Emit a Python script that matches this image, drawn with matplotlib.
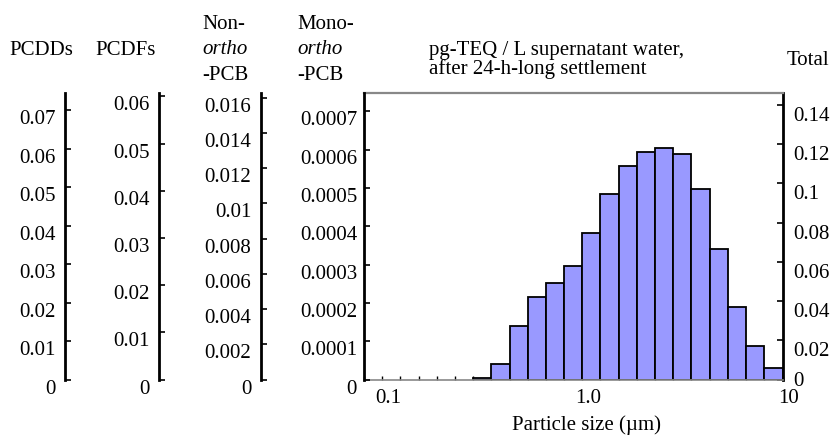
import numpy as np
import matplotlib.pyplot as plt
from matplotlib.ticker import FixedLocator, FuncFormatter, NullLocator
from matplotlib.transforms import ScaledTranslation

plt.rcParams['font.family'] = ['Liberation Serif', 'DejaVu Serif']
plt.rcParams['font.size'] = 15

# particle size bin edges (um) and pg-TEQ/L per bin (Total)
size_edges = [0.0811, 0.1, 0.123, 0.152, 0.187, 0.231, 0.285, 0.351, 0.433,
              0.534, 0.658, 0.811, 1.0, 1.23, 1.52, 1.87, 2.31, 2.85, 3.51,
              4.33, 5.34, 6.58, 8.11, 10.0]
total_teq = [0, 0, 0, 0, 0, 0, 0.0006, 0.0078, 0.0271, 0.0418, 0.0491, 0.058,
             0.0748, 0.0946, 0.109, 0.1158, 0.118, 0.1151, 0.0973, 0.0663,
             0.0368, 0.0169, 0.0061]
size_labels = {0.1: '0.1', 1.0: '1.0', 10.0: '10'}

# equivalent scales for each congener group
pcdd_ticks = [0, 0.01, 0.02, 0.03, 0.04, 0.05, 0.06, 0.07]
pcdf_ticks = [0, 0.01, 0.02, 0.03, 0.04, 0.05, 0.06]
nonortho_ticks = [0, 0.002, 0.004, 0.006, 0.008, 0.01, 0.012, 0.014, 0.016]
monoortho_ticks = [0, 0.0001, 0.0002, 0.0003, 0.0004, 0.0005, 0.0006, 0.0007]
total_ticks = [0, 0.02, 0.04, 0.06, 0.08, 0.1, 0.12, 0.14]
pcdd_max, pcdf_max, nonortho_max, monoortho_max, total_max = 0.0745, 0.0607, 0.01627, 0.000748, 0.146

W, H = 834, 437
fig = plt.figure(figsize=(W / 100, H / 100), dpi=100)

bot = (H - 379.5) / H
hgt = 286.5 / H
fmt = FuncFormatter(lambda v, p: '%g' % v)


def shift(labels, dx, dy):
    off = ScaledTranslation(dx / 100, dy / 100, fig.dpi_scale_trans)
    for lab in labels:
        lab.set_transform(lab.get_transform() + off)


def side_axis(x_px, ticks, ymax, pad=7):
    a = fig.add_axes([x_px / W, bot, 0.02, hgt])
    a.patch.set_visible(False)
    for s in ['top', 'right', 'bottom']:
        a.spines[s].set_visible(False)
    a.spines['left'].set_linewidth(2)
    a.set_xticks([])
    a.set_ylim(0, ymax)
    a.yaxis.set_major_locator(FixedLocator(ticks))
    a.yaxis.set_major_formatter(fmt)
    a.tick_params(axis='y', direction='in', length=4, width=1.2, pad=pad)
    shift([t.label1 for t in a.yaxis.get_major_ticks()], 0, -7)
    return a


side_axis(65, pcdd_ticks, pcdd_max)
side_axis(159, pcdf_ticks, pcdf_max)
side_axis(261, nonortho_ticks, nonortho_max)

# main histogram
ax = fig.add_axes([364 / W, bot, 418.5 / W, hgt])
edges = np.array(size_edges)
vals = np.array(total_teq)
has = vals > 0
ax.bar(edges[:-1][has], vals[has], width=np.diff(edges)[has], align='edge',
       color='#9999ff', edgecolor='black', linewidth=1.3)
ax.set_xscale('log')
ax.set_xlim(size_edges[0], size_edges[-1])
ax.set_ylim(0, total_max)
ax.xaxis.set_major_locator(FixedLocator(size_edges))
ax.xaxis.set_minor_locator(NullLocator())
ax.xaxis.set_major_formatter(FuncFormatter(
    lambda v, p: next((t for k, t in size_labels.items() if abs(v - k) < 1e-6), '')))
ax.yaxis.tick_right()
ax.yaxis.set_major_locator(FixedLocator(total_ticks))
ax.yaxis.set_major_formatter(fmt)
ax.tick_params(axis='x', direction='in', length=3, width=1, pad=7)
ax.tick_params(axis='y', direction='in', length=4, width=1.2, pad=8)
ax.set_axisbelow(True)
ax.spines['left'].set_visible(False)
ax.spines['right'].set_linewidth(2)
ax.spines['top'].set_color('#888888')
ax.spines['top'].set_linewidth(1.6)
ax.spines['bottom'].set_color('#888888')
ax.spines['bottom'].set_linewidth(1.2)
shift([t.label1 for t in ax.xaxis.get_major_ticks()], 6, 0)
shift([t.label2 for t in ax.yaxis.get_major_ticks()[1:]], 0, -9)

# mono-ortho scale on the left side of the histogram
am = side_axis(364, monoortho_ticks, monoortho_max, pad=5)
am.set_position([364 / W, bot, 418.5 / W, hgt])


def px_text(x, y, s, **kw):
    fig.text(x / W, 1 - y / H, s, va='baseline', **kw)


px_text(41, 55, 'PCDDs', ha='center')
px_text(126, 55, 'PCDFs', ha='center')
px_text(202, 29, 'Non-')
px_text(202, 54, 'ortho', style='italic')
px_text(202, 80, '-PCB')
px_text(297, 29, 'Mono-')
px_text(297, 54, 'ortho', style='italic')
px_text(297, 80, '-PCB')
px_text(429, 55, 'pg-TEQ / L supernatant water,')
px_text(429, 74, 'after 24-h-long settlement')
px_text(787, 65, 'Total')
px_text(587, 430, 'Particle size (µm)', ha='center')

fig.savefig('out.png', dpi=100)
